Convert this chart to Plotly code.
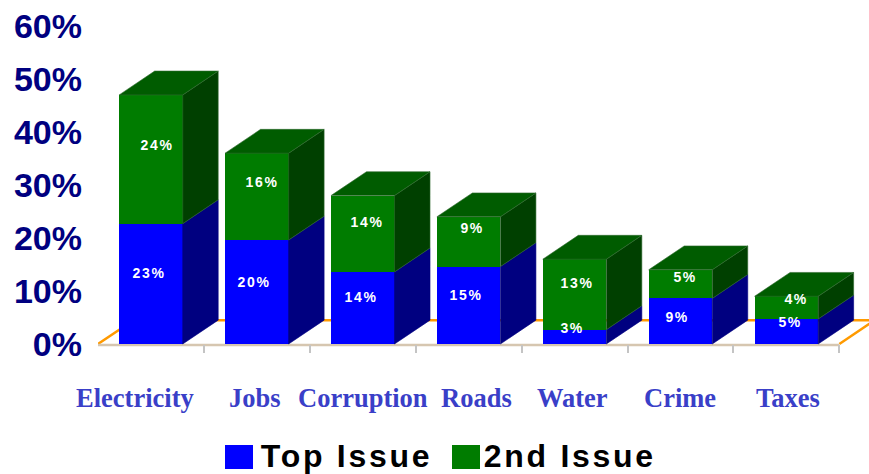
import plotly.graph_objects as go

categories = ["Electricity", "Jobs", "Corruption", "Roads", "Water", "Crime", "Taxes"]
top_issue = [22.7, 19.6, 13.6, 14.6, 2.7, 8.6, 4.7]
second_issue = [24.3, 16.4, 14.4, 9.4, 13.3, 5.4, 4.3]
y_ticks = [0, 10, 20, 30, 40, 50, 60]
y_tick_labels = ["0%", "10%", "20%", "30%", "40%", "50%", "60%"]

# Look of the chart: pixel nudges for the text, not data
cat_label_shift = [-16, -2, 0, 8, -2, 0, 2]
top_label_shift = [(-1, 11), (-2, 10), (-1, 11), (-2, 10), (-2, 9), (-3, 4), (4, 10)]
second_label_shift = [(7, 14), (6, 15), (5, 12), (4, 14), (3, 11), (5, 7), (10, 9)]

BAR_W = 0.6
DEPTH_X = 0.335
DEPTH_Y = 4.5
L, R, T, B = 98, 869, 26, 353
X_RANGE = [-0.5, 6.78]
Y_RANGE = [-1.7, 60]
BLUE, BLUE_SIDE = "#0000FF", "#000080"
GREEN, GREEN_SIDE, GREEN_TOP = "#007C00", "#004000", "#005C00"
ARIAL = "Liberation Sans"


def side_faces(lows, highs):
    xs, ys = [], []
    for i, (lo, hi) in enumerate(zip(lows, highs)):
        xr = i + BAR_W / 2
        xs += [xr, xr + DEPTH_X, xr + DEPTH_X, xr, xr, None]
        ys += [lo, lo + DEPTH_Y, hi + DEPTH_Y, hi, lo, None]
    return xs, ys


def top_faces(highs):
    xs, ys = [], []
    for i, hi in enumerate(highs):
        xl, xr = i - BAR_W / 2, i + BAR_W / 2
        xs += [xl, xl + DEPTH_X, xr + DEPTH_X, xr, xl, None]
        ys += [hi, hi + DEPTH_Y, hi + DEPTH_Y, hi, hi, None]
    return xs, ys


totals = [a + b for a, b in zip(top_issue, second_issue)]
positions = list(range(len(categories)))
fig = go.Figure()
fig.add_bar(x=positions, y=top_issue, name="Top Issue", marker=dict(color=BLUE, line_width=0), hoverinfo="skip")
fig.add_bar(x=positions, y=second_issue, name="2nd Issue", marker=dict(color=GREEN, line_width=0), hoverinfo="skip")


def add_face(xy, color, edge):
    fig.add_scatter(x=xy[0], y=xy[1], mode="lines", fill="toself", fillcolor=color,
                    line=dict(color=edge, width=0.6), hoverinfo="skip", showlegend=False)


add_face(side_faces([0] * len(top_issue), top_issue), BLUE_SIDE, BLUE_SIDE)
add_face(side_faces(top_issue, totals), GREEN_SIDE, "#2F6A2F")
add_face(top_faces(totals), GREEN_TOP, "#2F6A2F")

shapes = [
    # floor outline behind the bars
    dict(type="path", layer="below", xref="x", yref="y",
         path=f"M -0.5 0 L {-0.5 + DEPTH_X} {DEPTH_Y} L {6.5 + DEPTH_X} {DEPTH_Y} L 6.5 0",
         line=dict(color="#FF9A00", width=2.5)),
    # category axis line
    dict(type="line", layer="below", xref="x", yref="y", x0=-0.5, x1=6.5, y0=-0.2, y1=-0.2,
         line=dict(color="#D6C6B0", width=2.5)),
]


def px(x):
    return (x - L) / (R - L)


def py(y):
    return (B - y) / (B - T)


for x0, color in [(225, BLUE), (452, GREEN)]:
    shapes.append(dict(type="rect", xref="paper", yref="paper", x0=px(x0), x1=px(x0 + 28),
                       y0=py(469), y1=py(445), fillcolor=color, line_width=0))

annotations = []
for i, name in enumerate(categories):
    annotations.append(dict(x=i, y=0, xref="x", yref="y", text=name, showarrow=False,
                            xshift=cat_label_shift[i], yshift=-54,
                            font=dict(family="Liberation Serif", size=26.5, weight=700, color="#3A3FC8")))
for i, (a, b) in enumerate(zip(top_issue, second_issue)):
    annotations.append(dict(x=i, y=a / 2, xref="x", yref="y", text=f"{round(a)}%", showarrow=False,
                            xshift=top_label_shift[i][0], yshift=top_label_shift[i][1],
                            font=dict(family=ARIAL, size=14, weight=700, color="white")))
    annotations.append(dict(x=i, y=a + b / 2, xref="x", yref="y", text=f"{round(b)}%", showarrow=False,
                            xshift=second_label_shift[i][0], yshift=second_label_shift[i][1],
                            font=dict(family=ARIAL, size=14, weight=700, color="white")))
for xc, label in [(346.5, "Top Issue"), (570, "2nd Issue")]:
    annotations.append(dict(x=px(xc), y=py(456), xref="paper", yref="paper", text=label, showarrow=False,
                            xanchor="center", yanchor="middle",
                            font=dict(family=ARIAL, size=32, weight=700, color="black")))

fig.update_layout(
    width=869, height=474, margin=dict(l=L, r=869 - R, t=T, b=474 - B),
    barmode="stack", bargap=1 - BAR_W, showlegend=False,
    paper_bgcolor="white", plot_bgcolor="white",
    shapes=shapes, annotations=annotations,
    xaxis=dict(range=X_RANGE, tick0=-0.5, dtick=1, ticks="inside", ticklen=8, tickwidth=2,
               tickcolor="#C4C4C4", showticklabels=False, showgrid=False, zeroline=False, showline=False),
    yaxis=dict(range=Y_RANGE, tickmode="array", tickvals=y_ticks, ticktext=y_tick_labels,
               ticks="", showgrid=False, zeroline=False, showline=False, ticklabelstandoff=15,
               tickfont=dict(family=ARIAL, size=34, weight=700, color="#000080")),
)

post = """
document.body.style.margin = '0';
document.querySelectorAll('.annotation-text').forEach(function(t){
  var c = t.textContent;
  if (c.indexOf('Issue') >= 0) { t.style.letterSpacing = '2.7px'; }
  else if (c.indexOf('%') >= 0) { t.style.letterSpacing = '1.6px'; }
});
"""
fig.write_html("out.html", post_script=post, config=dict(displayModeBar=False))
